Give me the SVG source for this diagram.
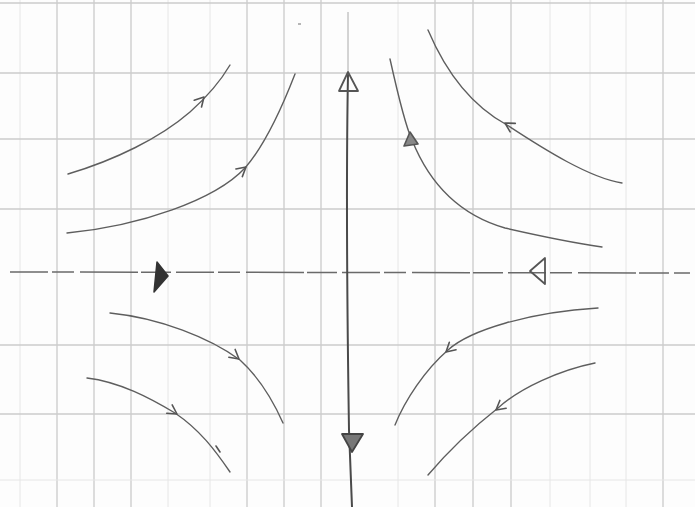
<svg xmlns="http://www.w3.org/2000/svg" width="695" height="507" viewBox="0 0 695 507">
<style>
.g1{stroke:#cbcbcb;stroke-width:1.3;fill:none}
.g2{stroke:#e6e6e6;stroke-width:1;fill:none}
.traj{stroke:#5e5e5e;stroke-width:1.4;fill:none;stroke-linecap:round;stroke-linejoin:round}
.axis{stroke:#4a4a4a;stroke-width:2;fill:none;stroke-linecap:round}
.arr{stroke:#555;stroke-width:1.6;fill:none;stroke-linecap:round;stroke-linejoin:round}
</style>
<defs>
<path id="chev" d="M-9,-5 L0,0 L-9,5" class="arr"/>
</defs>
<rect width="695" height="507" fill="#fdfdfd"/>
<g id="grid">
<path class="g2" d="M20,0V507M168,0V507M210,0V507M398,0V507M550,0V507M590,0V507M626,0V507"/>
<path class="g1" d="M57,0V507M94,0V507M131,0V507M247,0V507M284,0V507M321,0V507M435,0V507M473,0V507M511,0V507M663,0V507"/>
<path class="g1" d="M0,3H695M0,73H695M0,139H695M0,209H695M0,345H695M0,414H695"/>
<path class="g2" d="M0,480H695"/>
</g>
<g id="axes">
<path d="M10,272 L690,273" stroke="#6a6a6a" stroke-width="1.5" fill="none" stroke-dasharray="38,4,22,6,58,3,30,5"/>
<path d="M348,12 L348,75" stroke="#aaa" stroke-width="1" fill="none"/>
<path class="axis" d="M348,75 C346,180 347,300 349,430 L352,507"/>
<path d="M348,72 L339,91 L358,91 Z" fill="none" stroke="#555" stroke-width="1.8" stroke-linejoin="round"/>
<path d="M342,434 L363,434 L352,452 Z" fill="#777" stroke="#444" stroke-width="1.8" stroke-linejoin="round"/>
<path d="M157,262 L168,276 L154,292 Z" fill="#333" stroke="#333" stroke-width="1.5" stroke-linejoin="round"/>
<path d="M530,271 L545,258 L545,284 Z" fill="none" stroke="#555" stroke-width="1.8" stroke-linejoin="round"/>
</g>
<g id="trajectories">
<path class="traj" d="M68,174 C115,160 160,138 190,112 C208,96 220,82 230,65"/>
<path class="traj" d="M67,233 C140,226 215,200 245,168 C265,145 283,105 295,74"/>
<path class="traj" d="M428,30 C445,70 470,105 507,125 C545,150 590,178 622,183"/>
<path class="traj" d="M390,59 C398,95 405,125 412,140 C430,185 460,215 505,228 C540,236 575,243 602,247"/>
<path class="traj" d="M110,313 C160,318 210,338 240,360 C262,380 275,405 283,423"/>
<path class="traj" d="M87,378 C120,382 150,398 175,413 C200,430 215,450 230,472"/>
<path class="traj" d="M598,308 C530,312 470,330 448,350 C425,370 405,400 395,425"/>
<path class="traj" d="M595,363 C560,370 520,388 498,408 C470,430 445,455 428,475"/>
<path d="M298,24 L301,24" stroke="#888" stroke-width="1.2"/>
</g>
<g id="arrows">
<use href="#chev" transform="translate(204,97) rotate(-47)"/>
<use href="#chev" transform="translate(246,167) rotate(-40)"/>
<use href="#chev" transform="translate(505,123) rotate(-149)"/>
<path d="M410,132 L404,146 L418,144 Z" fill="#888" stroke="#555" stroke-width="1.6" stroke-linejoin="round"/>
<use href="#chev" transform="translate(239,359) rotate(39)"/>
<use href="#chev" transform="translate(177,414) rotate(33)"/>
<path d="M216,446 L220,452" class="arr"/>
<use href="#chev" transform="translate(446,352) rotate(138)"/>
<use href="#chev" transform="translate(496,410) rotate(141)"/>
</g>
</svg>
